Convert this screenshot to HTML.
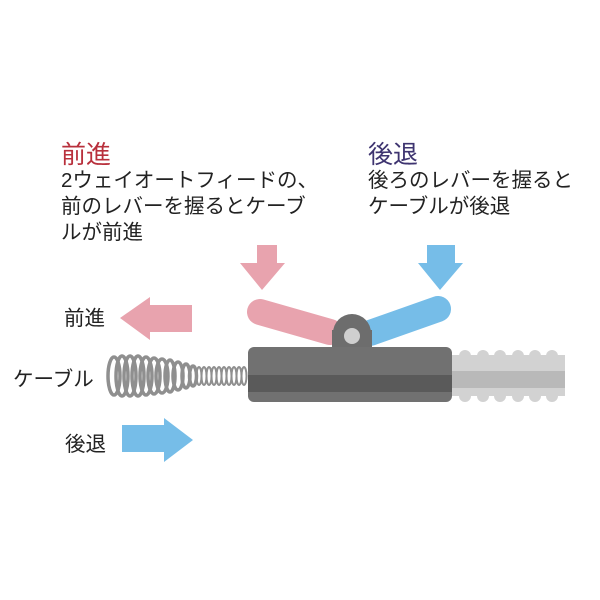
<!DOCTYPE html>
<html><head><meta charset="utf-8"><style>
body{margin:0;width:600px;height:600px;background:#fff;overflow:hidden;font-family:"Liberation Sans","Noto Sans CJK JP",sans-serif;}
.t{position:absolute;white-space:nowrap;color:#222;}
</style></head><body>
<div class="t" style="left:61px;top:135px;font-size:25px;color:#b8303c;">前進</div>
<div class="t" style="left:61px;top:168px;font-size:20.5px;line-height:26px;">2ウェイオートフィードの、<br>前のレバーを握るとケーブ<br>ルが前進</div>
<div class="t" style="left:368px;top:135px;font-size:25px;color:#3e3470;">後退</div>
<div class="t" style="left:368px;top:168px;font-size:20.5px;line-height:26px;">後ろのレバーを握ると<br>ケーブルが後退</div>
<div class="t" style="left:64px;top:301px;font-size:20.5px;">前進</div>
<div class="t" style="left:13px;top:362px;font-size:20.5px;">ケーブル</div>
<div class="t" style="left:65px;top:427px;font-size:20.5px;">後退</div>
<svg width="600" height="600" style="position:absolute;left:0;top:0">
<polygon points="257,245 277,245 277,263 285,263 262,290 240,263 257,263" fill="#e8a3ae"/>
<polygon points="427,245 455,245 455,263 463,263 440,290 418,263 427,263" fill="#76bde8"/>
<polygon points="192,305 150,305 150,297 120,318 150,340 150,332 192,332" fill="#e8a3ae"/>
<polygon points="122,425 164,425 164,418 193,440 164,462 164,452 122,452" fill="#76bde8"/>
<line x1="260" y1="312" x2="330" y2="332" stroke="#e8a3ae" stroke-width="26" stroke-linecap="round"/>
<line x1="370" y1="333" x2="438" y2="309" stroke="#76bde8" stroke-width="26" stroke-linecap="round"/>
<rect x="452" y="355" width="113" height="41" fill="#d2d2d2"/>
<g fill="#d2d2d2"><circle cx="465" cy="356" r="6"/><circle cx="483" cy="356" r="6"/><circle cx="500" cy="356" r="6"/><circle cx="518" cy="356" r="6"/><circle cx="535" cy="356" r="6"/><circle cx="552" cy="356" r="6"/>
<circle cx="465" cy="396" r="6"/><circle cx="483" cy="396" r="6"/><circle cx="500" cy="396" r="6"/><circle cx="518" cy="396" r="6"/><circle cx="535" cy="396" r="6"/><circle cx="552" cy="396" r="6"/></g>
<rect x="452" y="371" width="113" height="17" fill="#b9b9b9"/>
<g fill="none" stroke="#8f8f8f" stroke-width="3.5">
<ellipse cx="114" cy="376" rx="6" ry="19"/><ellipse cx="122" cy="376" rx="6" ry="20"/><ellipse cx="130" cy="376" rx="6" ry="20"/><ellipse cx="138" cy="376" rx="6" ry="20"/><ellipse cx="146" cy="376" rx="6" ry="19"/><ellipse cx="154" cy="376" rx="6" ry="18"/><ellipse cx="162" cy="376" rx="6" ry="17"/><ellipse cx="170" cy="376" rx="5" ry="16"/><ellipse cx="178" cy="376" rx="5" ry="14"/><ellipse cx="186" cy="376" rx="4" ry="12"/><ellipse cx="193" cy="376" rx="3.5" ry="10"/>
</g>
<g fill="none" stroke="#8f8f8f" stroke-width="2">
<ellipse cx="199" cy="376" rx="2.5" ry="9"/><ellipse cx="204" cy="376" rx="2.5" ry="9"/><ellipse cx="209" cy="376" rx="2.5" ry="9"/><ellipse cx="214" cy="376" rx="2.5" ry="9"/><ellipse cx="219" cy="376" rx="2.5" ry="9"/><ellipse cx="224" cy="376" rx="2.5" ry="9"/><ellipse cx="229" cy="376" rx="2.5" ry="9"/><ellipse cx="234" cy="376" rx="2.5" ry="9"/><ellipse cx="239" cy="376" rx="2.5" ry="9"/><ellipse cx="244" cy="376" rx="2.5" ry="9"/>
</g>
<rect x="332" y="330" width="40" height="20" fill="#6d6d6d"/>
<circle cx="352" cy="333" r="19" fill="#6d6d6d"/>
<circle cx="352" cy="336" r="8" fill="#cfcfcf"/>
<rect x="248" y="347" width="204" height="55" rx="6" fill="#717171"/>
<rect x="248" y="375" width="204" height="17" fill="#5a5a5a"/>
</svg>
</body></html>
